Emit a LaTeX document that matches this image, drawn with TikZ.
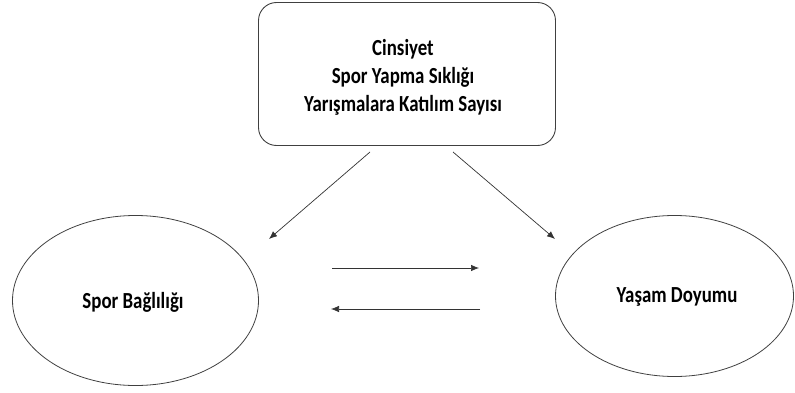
\documentclass[tikz,border=0pt]{standalone}
\usepackage{fontspec}
\setmainfont{Carlito}
\newfontfamily\narrowfont[FakeStretch=0.82]{Carlito}
\usetikzlibrary{arrows.meta,shapes.geometric}
\begin{document}
\begin{tikzpicture}[x=1pt,y=-1pt,
  lbl/.style={font=\narrowfont\fontsize{23}{28}\selectfont\bfseries, align=center},
  boxnode/.style={draw=black!75, line width=0.9pt, rounded corners=18pt, minimum width=297pt, minimum height=143pt, lbl},
  ell/.style={draw=black!75, line width=0.8pt, ellipse, lbl},
  arr/.style={draw=black!80, line width=0.7pt, -{Latex[length=8pt,width=6.5pt]}}]
\useasboundingbox (0,0) rectangle (795,393);
\node[boxnode] (top) at (407,74) {};
\node[lbl] (toptext) at (403,77) {Cinsiyet\\Spor Yapma Sıklığı\\Yarışmalara Katılım Sayısı};
\node[ell, minimum width=246pt, minimum height=170pt] (left) at (135.5,300.5) {};
\node[lbl] (lefttext) at (133,302) {Spor Bağlılığı};
\node[ell, minimum width=238pt, minimum height=161pt] (right) at (674.5,296) {};
\node[lbl] (righttext) at (677,297) {Yaşam Doyumu};
\coordinate (a1) at (370,152);
\coordinate (a2) at (269,239);
\coordinate (b1) at (453,152);
\coordinate (b2) at (555,239);
\coordinate (c1) at (332,268);
\coordinate (c2) at (479,268);
\coordinate (d1) at (480,309);
\coordinate (d2) at (331,309);
\draw[arr] (a1) -- (a2);
\draw[arr] (b1) -- (b2);
\draw[arr] (c1) -- (c2);
\draw[arr] (d1) -- (d2);
\end{tikzpicture}
\end{document}
